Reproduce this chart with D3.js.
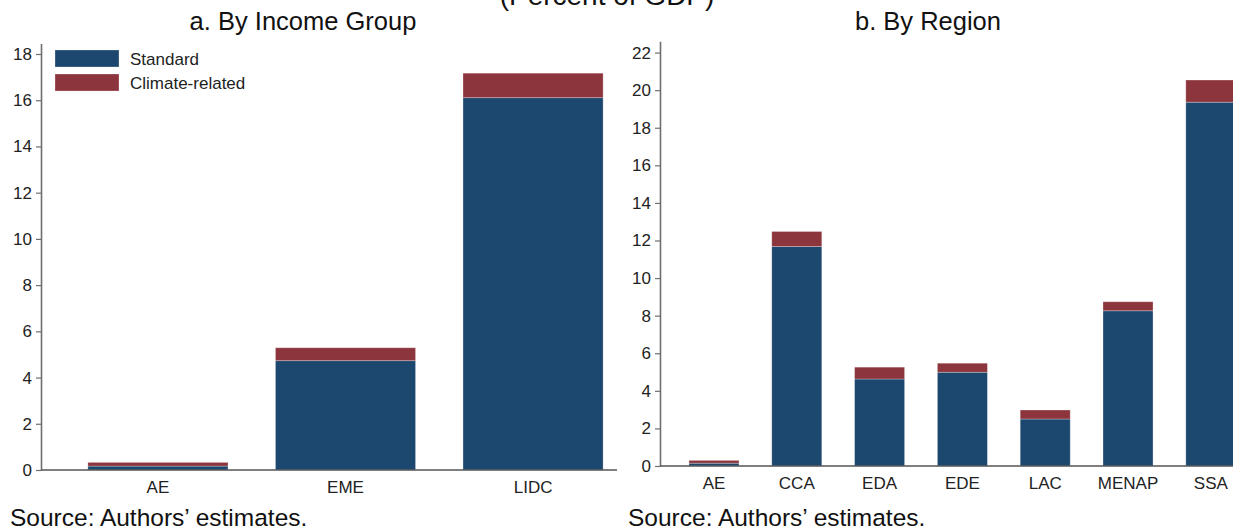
<!DOCTYPE html>
<html>
<head>
<meta charset="utf-8">
<script src="https://cdn.jsdelivr.net/npm/d3@7"></script>
<style>
  html, body { margin: 0; padding: 0; background: #fff; }
  svg { display: block; font-family: "Liberation Sans", Arial, sans-serif; }
</style>
</head>
<body>
<svg id="chart" width="1233" height="531"></svg>
<script>
// Public debt-type burden, stacked: standard vs climate-related (percent of GDP)
const seriesKeys = ["standard", "climate"];
const seriesLabels = ["Standard", "Climate-related"];
const seriesColors = ["#1c476f", "#8d353c"];

// Panel a: by income group
const incomeGroups = ["AE", "EME", "LIDC"];
const incomeStandard = [0.17, 4.73, 16.11];
const incomeClimate = [0.16, 0.56, 1.06];
const incomeTicks = [0, 2, 4, 6, 8, 10, 12, 14, 16, 18];

// Panel b: by region
const regions = ["AE", "CCA", "EDA", "EDE", "LAC", "MENAP", "SSA"];
const regionStandard = [0.15, 11.68, 4.63, 4.99, 2.50, 8.26, 19.36];
const regionClimate = [0.15, 0.80, 0.63, 0.48, 0.48, 0.48, 1.18];
const regionTicks = [0, 2, 4, 6, 8, 10, 12, 14, 16, 18, 20, 22];

const svg = d3.select("#chart");

// Overall subtitle, partly above the top edge
svg.append("text")
  .attr("x", 607).attr("y", 5)
  .attr("text-anchor", "middle")
  .attr("font-size", 28)
  .attr("fill", "#111")
  .text("(Percent of GDP)");

function drawPanel(cfg) {
  const rows = cfg.cats.map((c, i) => ({ cat: c, standard: cfg.standard[i], climate: cfg.climate[i] }));
  const stacked = d3.stack().keys(seriesKeys)(rows);

  const x = d3.scaleBand()
    .domain(cfg.cats)
    .range(cfg.xRange)
    .paddingInner(cfg.padInner)
    .paddingOuter(cfg.padOuter);

  const y = d3.scaleLinear()
    .domain([0, cfg.yMax])
    .range([cfg.y0, cfg.yTop]);

  const g = svg.append("g");

  // Title
  g.append("text")
    .attr("x", cfg.titleX).attr("y", 30)
    .attr("text-anchor", "middle")
    .attr("font-size", 25.5)
    .attr("fill", "#111")
    .text(cfg.title);

  // Stacked bars
  g.selectAll("g.layer")
    .data(stacked)
    .join("g")
    .attr("class", "layer")
    .attr("fill", (d, i) => seriesColors[i])
    .selectAll("rect")
    .data(d => d)
    .join("rect")
    .attr("x", d => x(d.data.cat))
    .attr("width", x.bandwidth())
    .attr("y", d => y(d[1]))
    .attr("height", d => y(d[0]) - y(d[1]))
    .attr("stroke", "rgba(255,255,255,0.35)")
    .attr("stroke-width", 0.8);

  // Y axis
  const yAxis = g.append("g")
    .attr("transform", `translate(${cfg.axisX},0)`)
    .call(d3.axisLeft(y).tickValues(cfg.ticks).tickSize(5).tickSizeOuter(0).tickPadding(4));
  yAxis.select(".domain").attr("stroke", "#6f6f6f").attr("stroke-width", 1.6);
  yAxis.selectAll(".tick line").attr("stroke", "#6f6f6f").attr("stroke-width", 1.2);
  yAxis.selectAll(".tick text").attr("font-size", 17).attr("fill", "#222")
    .attr("font-family", "'Liberation Sans', Arial, sans-serif");

  // X axis
  const xAxis = g.append("g")
    .attr("transform", `translate(0,${cfg.y0})`)
    .call(d3.axisBottom(x).tickSize(0).tickPadding(cfg.xPad));
  xAxis.select(".domain").remove();
  xAxis.selectAll(".tick text").attr("font-size", 17).attr("fill", "#222")
    .attr("font-family", "'Liberation Sans', Arial, sans-serif");
  g.append("line")
    .attr("x1", cfg.axisX).attr("x2", cfg.xLineEnd)
    .attr("y1", cfg.y0).attr("y2", cfg.y0)
    .attr("stroke", "#555").attr("stroke-width", 1.4);

  // Source note
  g.append("text")
    .attr("x", cfg.sourceX).attr("y", 526)
    .attr("font-size", 24.5)
    .attr("fill", "#111")
    .text("Source: Authors\u2019 estimates.");

  return g;
}

const gA = drawPanel({
  title: "a. By Income Group", titleX: 303,
  cats: incomeGroups, standard: incomeStandard, climate: incomeClimate,
  ticks: incomeTicks, yMax: 18.45, y0: 470, yTop: 43.6,
  xRange: [41, 650], padInner: 0.253, padOuter: 0.25, xPad: 11,
  axisX: 41, xLineEnd: 617, sourceX: 10
});

drawPanel({
  title: "b. By Region", titleX: 928,
  cats: regions, standard: regionStandard, climate: regionClimate,
  ticks: regionTicks, yMax: 22.6, y0: 466, yTop: 41.3,
  xRange: [660, 1264.8], padInner: 0.396, padOuter: 0.35, xPad: 11,
  axisX: 660, xLineEnd: 1233, sourceX: 628
});

// Legend (panel a)
const legend = gA.append("g");
seriesLabels.forEach((lab, i) => {
  legend.append("rect")
    .attr("x", 55).attr("y", 50 + i * 24)
    .attr("width", 64).attr("height", 17)
    .attr("fill", seriesColors[i])
    .attr("stroke", "rgba(255,255,255,0.35)").attr("stroke-width", 0.8);
  legend.append("text")
    .attr("x", 130).attr("y", 65 + i * 24)
    .attr("font-size", 17).attr("fill", "#222")
    .text(lab);
});
</script>
</body>
</html>
